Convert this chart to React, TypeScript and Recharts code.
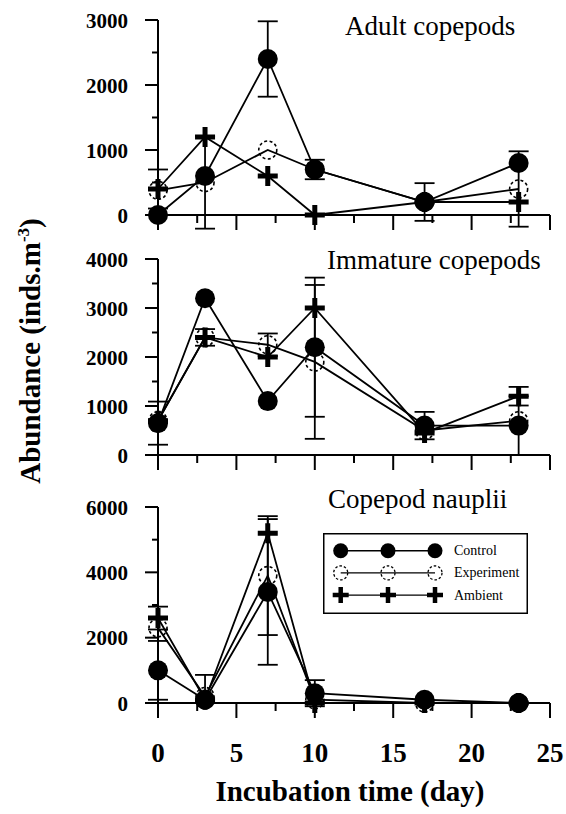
import React from 'react';
import { LineChart, Line, XAxis, YAxis, ErrorBar, Legend } from 'recharts';

// Sampling days of the incubation
const days = [0, 3, 7, 10, 17, 23];

// Adult copepods (inds.m-3)
const adultControl = [0, 600, 2400, 700, 200, 800];
const adultExperiment = [380, 500, 1000, 700, 200, 400];
const adultAmbient = [400, 1200, 600, 0, 200, 200];
const adultControlErr = [null, null, 580, 150, null, null];
const adultExperimentErr = [null, 710, null, null, 290, 580];
const adultAmbientErr = [300, null, null, null, null, null];

// Immature copepods (inds.m-3)
const immatureControl = [650, 3200, 1100, 2200, 600, 600];
const immatureExperiment = [700, 2400, 2250, 1900, 500, 700];
const immatureAmbient = [700, 2400, 2000, 3000, 450, 1200];
const immatureControlErr = [440, null, null, 1420, 280, 600];
const immatureExperimentErr = [null, null, 230, 1570, null, null];
const immatureAmbientErr = [null, 170, null, null, null, 190];

// Copepod nauplii (inds.m-3)
const naupliiControl = [1000, 100, 3400, 300, 100, 0];
const naupliiExperiment = [2300, 200, 3900, 100, 0, 0];
const naupliiAmbient = [2600, 100, 5200, 0, 0, 0];
const naupliiControlErr = [900, null, 2230, 400, null, null];
const naupliiExperimentErr = [null, null, 1820, null, null, null];
const naupliiAmbientErr = [350, [100, 760], null, null, null, null];

// Axis ticks
const xTicks = [0, 2.5, 5, 7.5, 10, 12.5, 15, 17.5, 20, 22.5, 25];
const adultTicks = [0, 500, 1000, 1500, 2000, 2500, 3000];
const immatureTicks = [0, 500, 1000, 1500, 2000, 2500, 3000, 3500, 4000];
const naupliiTicks = [0, 1000, 2000, 3000, 4000, 5000, 6000];

const seriesOrder = ['Control', 'Experiment', 'Ambient'];

const SERIF = "'Liberation Serif', 'Times New Roman', 'DejaVu Serif', serif";
const W = 566;
const H = 814;

type Err = number | number[] | null;

function buildRows(c: number[], e: number[], a: number[], ce: Err[], ee: Err[], ae: Err[]) {
  return days.map((day, i) => ({
    day,
    control: c[i],
    experiment: e[i],
    ambient: a[i],
    controlErr: ce[i] ?? undefined,
    experimentErr: ee[i] ?? undefined,
    ambientErr: ae[i] ?? undefined,
  }));
}

const adultRows = buildRows(adultControl, adultExperiment, adultAmbient, adultControlErr, adultExperimentErr, adultAmbientErr);
const immatureRows = buildRows(immatureControl, immatureExperiment, immatureAmbient, immatureControlErr, immatureExperimentErr, immatureAmbientErr);
const naupliiRows = buildRows(naupliiControl, naupliiExperiment, naupliiAmbient, naupliiControlErr, naupliiExperimentErr, naupliiAmbientErr);

// Markers
const controlDot = (p: any) =>
  p.cx == null ? <g key={p.index} /> : <circle key={p.index} cx={p.cx} cy={p.cy} r={10} fill="#000" stroke="none" />;

const experimentDot = (p: any) =>
  p.cx == null ? (
    <g key={p.index} />
  ) : (
    <circle key={p.index} cx={p.cx} cy={p.cy} r={9} fill="none" stroke="#000" strokeWidth={1.6} strokeDasharray="3 2.5" />
  );

const ambientDot = (p: any) =>
  p.cx == null ? (
    <g key={p.index} />
  ) : (
    <path
      key={p.index}
      d={`M${p.cx - 10},${p.cy}H${p.cx + 10}M${p.cx},${p.cy - 10}V${p.cy + 10}`}
      stroke="#000"
      strokeWidth={5}
      fill="none"
    />
  );

// Tick renderers: long ticks with labels on major values, short ticks otherwise
const makeYTick = (majorStep: number) => (props: any) => {
  const { x, y, payload } = props;
  const v = payload.value;
  const major = v % majorStep === 0;
  return (
    <g key={`y-${v}`}>
      <line x1={x - (major ? 13 : 6)} x2={x} y1={y} y2={y} stroke="#000" strokeWidth={2} />
      {major && (
        <text x={x - 30} y={y + 7.5} textAnchor="end" fontFamily={SERIF} fontWeight="bold" fontSize={21} fill="#000">
          {v}
        </text>
      )}
    </g>
  );
};

const makeXTick = (showLabels: boolean) => (props: any) => {
  const { x, y, payload } = props;
  const v = payload.value;
  const major = v % 5 === 0;
  return (
    <g key={`x-${v}`}>
      <line x1={x} x2={x} y1={y} y2={y + (major ? 15 : 8)} stroke="#000" strokeWidth={2} />
      {showLabels && major && (
        <text x={x} y={y + 58.5} textAnchor="middle" fontFamily={SERIF} fontWeight="bold" fontSize={27} fill="#000">
          {v}
        </text>
      )}
    </g>
  );
};

const legendMarker = (name: string, cx: number, cy: number, key: string) => {
  if (name === 'Control') return <circle key={key} cx={cx} cy={cy} r={7.5} fill="#000" />;
  if (name === 'Experiment')
    return <circle key={key} cx={cx} cy={cy} r={7} fill="none" stroke="#000" strokeWidth={1.3} strokeDasharray="2.5 2" />;
  return (
    <path key={key} d={`M${cx - 8},${cy}H${cx + 8}M${cx},${cy - 8}V${cy + 8}`} stroke="#000" strokeWidth={4.5} fill="none" />
  );
};

const renderLegend = (props: any) => {
  const items = [...(props.payload || [])].sort(
    (a: any, b: any) => seriesOrder.indexOf(a.value) - seriesOrder.indexOf(b.value)
  );
  const xs = [17.7, 65, 112];
  return (
    <svg width={205} height={81} style={{ display: 'block' }}>
      <rect x={0.75} y={0.75} width={203.5} height={79.5} fill="#fff" stroke="#000" strokeWidth={1.5} />
      {items.map((it: any, i: number) => {
        const cy = 17.7 + i * 22.2;
        return (
          <g key={it.value}>
            <line x1={xs[0]} x2={xs[2]} y1={cy} y2={cy} stroke="#000" strokeWidth={1.4} />
            {xs.map((cx, j) => legendMarker(it.value, cx, cy, `${it.value}-${j}`))}
            <text x={131} y={cy + 4.5} fontFamily={SERIF} fontSize={14} fill="#000">
              {it.value}
            </text>
          </g>
        );
      })}
    </svg>
  );
};

type PanelProps = {
  rows: any[];
  top: number;
  bottom: number;
  yMax: number;
  yTicks: number[];
  majorStep: number;
  xLabels: boolean;
  legend?: boolean;
};

function Panel({ rows, top, bottom, yMax, yTicks, majorStep, xLabels, legend }: PanelProps) {
  return (
    <div style={{ position: 'absolute', left: 0, top: 0, width: W, height: H }}>
      <LineChart width={W} height={H} data={rows} margin={{ top, right: 16, bottom: H - bottom - 30, left: 0 }}>
        <XAxis
          dataKey="day"
          type="number"
          domain={[0, 25]}
          ticks={xTicks}
          interval={0}
          height={30}
          tickSize={0}
          tickMargin={0}
          tickLine={false}
          axisLine={{ stroke: '#000', strokeWidth: 2 }}
          tick={makeXTick(xLabels)}
        />
        <YAxis
          type="number"
          domain={[0, yMax]}
          allowDataOverflow
          ticks={yTicks}
          interval={0}
          width={158}
          tickSize={0}
          tickMargin={0}
          tickLine={false}
          axisLine={{ stroke: '#000', strokeWidth: 2 }}
          tick={makeYTick(majorStep)}
        />
        <Line
          name="Ambient"
          dataKey="ambient"
          type="linear"
          stroke="#000"
          strokeWidth={1.8}
          dot={ambientDot}
          activeDot={false}
          isAnimationActive={false}
        >
          <ErrorBar dataKey="ambientErr" width={10} stroke="#000" strokeWidth={1.8} direction="y" isAnimationActive={false} />
        </Line>
        <Line
          name="Experiment"
          dataKey="experiment"
          type="linear"
          stroke="#000"
          strokeWidth={1.8}
          dot={experimentDot}
          activeDot={false}
          isAnimationActive={false}
        >
          <ErrorBar dataKey="experimentErr" width={10} stroke="#000" strokeWidth={1.8} direction="y" isAnimationActive={false} />
        </Line>
        <Line
          name="Control"
          dataKey="control"
          type="linear"
          stroke="#000"
          strokeWidth={1.8}
          dot={controlDot}
          activeDot={false}
          isAnimationActive={false}
        >
          <ErrorBar dataKey="controlErr" width={10} stroke="#000" strokeWidth={1.8} direction="y" isAnimationActive={false} />
        </Line>
        {legend && (
          <Legend
            layout="horizontal"
            verticalAlign="middle"
            align="center"
            content={renderLegend}
            wrapperStyle={{ left: 323, top: 533, width: 205, height: 81 }}
          />
        )}
      </LineChart>
    </div>
  );
}

export default function App() {
  return (
    <div style={{ position: 'absolute', left: 0, top: 0, width: W, height: H, background: '#fff', overflow: 'hidden' }}>
      <style>{'.recharts-surface [clip-path]{clip-path:none !important;}'}</style>
      <Panel rows={adultRows} top={20} bottom={215} yMax={3000} yTicks={adultTicks} majorStep={1000} xLabels={false} />
      <Panel rows={immatureRows} top={259} bottom={455} yMax={4000} yTicks={immatureTicks} majorStep={1000} xLabels={false} />
      <Panel
        rows={naupliiRows}
        top={507}
        bottom={703}
        yMax={6000}
        yTicks={naupliiTicks}
        majorStep={2000}
        xLabels
        legend
      />
      <svg width={W} height={H} style={{ position: 'absolute', left: 0, top: 0, pointerEvents: 'none' }}>
        <g fontFamily={SERIF} fill="#000">
          <text x={345} y={35} fontSize={27}>Adult copepods</text>
          <text x={327} y={269} fontSize={27}>Immature copepods</text>
          <text x={328} y={508} fontSize={27}>Copepod nauplii</text>
          <text x={350} y={801} fontSize={29} fontWeight="bold" textAnchor="middle">
            Incubation time (day)
          </text>
          <text x={40} y={351} fontSize={29} fontWeight="bold" textAnchor="middle" transform="rotate(-90 40 351)">
            Abundance (inds.m
            <tspan fontSize={17} dy={-11}>-3</tspan>
            <tspan dy={11}>)</tspan>
          </text>
        </g>
      </svg>
    </div>
  );
}
